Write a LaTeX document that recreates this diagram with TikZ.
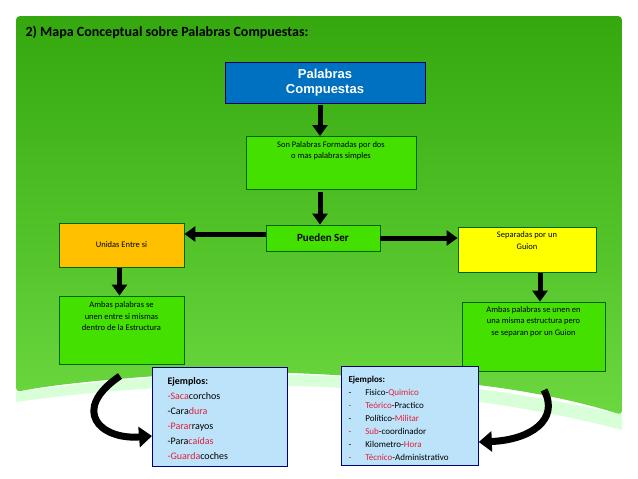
\documentclass[tikz,border=0pt]{standalone}
\usepackage{fontspec}
\setmainfont{Carlito}
\newfontfamily\heavy{Liberation Sans}
\usetikzlibrary{arrows.meta}
\definecolor{bgtop}{HTML}{34A80E}
\definecolor{bgbot}{HTML}{6CD840}
\definecolor{boxblue}{HTML}{0070C0}
\definecolor{boxgreen}{HTML}{44E000}
\definecolor{boxorange}{HTML}{FFC000}
\definecolor{boxyellow}{HTML}{FFFF00}
\definecolor{exblue}{HTML}{BDE3FA}
\definecolor{rd}{HTML}{E0203A}
\tikzset{
  box/.style={draw=green!40!black, line width=0.8pt, inner sep=2pt, align=center, font=\fontsize{8.5}{11.5}\selectfont},
  exbox/.style={draw=blue!50!black, fill=exblue, line width=0.8pt, align=left, anchor=north west, inner sep=0pt},
  arr/.style={line width=5pt, -{Triangle[length=11pt,width=15pt]}},
  carr/.style={line width=7pt, -{Triangle[length=13pt,width=20pt]}},
}
\begin{document}
\begin{tikzpicture}[x=1pt,y=-1pt]
\useasboundingbox (0,0) rectangle (638,479);
\fill[white] (0,0) rectangle (638,479);
% background
\shade[top color=bgtop, bottom color=bgbot, rounded corners=4pt]
  (16,16) -- (622,16) -- (622,415) .. controls (560,395) and (470,380) .. (380,378)
  .. controls (300,372) and (220,370) .. (170,375) .. controls (100,380) and (50,385) .. (16,392) -- cycle;
\fill[green!25!white, opacity=0.6] (16,392) .. controls (100,380) and (200,372) .. (300,375)
  .. controls (420,378) and (540,395) .. (622,415) -- (622,430)
  .. controls (540,408) and (420,390) .. (300,386) .. controls (200,383) and (100,390) .. (16,402) -- cycle;
\node[anchor=west, font=\fontsize{14}{16}\selectfont\bfseries] (title) at (22,32) {2) Mapa Conceptual sobre Palabras Compuestas:};

\node[box, fill=boxblue, draw=blue!40!black, minimum width=200pt, minimum height=41pt,
  font=\heavy\fontsize{13}{14.5}\selectfont\bfseries, text=white] (pc) at (325,82.5) {Palabras\\Compuestas};
\node[box, fill=boxgreen, minimum width=170pt, minimum height=53pt, anchor=north] (son) at (331,136)
  {Son Palabras Formadas por dos\\o mas palabras simples\\[14pt]};
\node[box, fill=boxgreen, minimum width=114pt, minimum height=26pt, font=\fontsize{11}{12}\selectfont\bfseries] (ps) at (323,238) {Pueden Ser};
\node[box, fill=boxorange, minimum width=125pt, minimum height=44pt] (un) at (121.5,245) {Unidas Entre si};
\node[box, fill=boxyellow, minimum width=138pt, minimum height=45pt] (sep) at (527,249.5) {Separadas por un\\Guion\\[6pt]};
\node[box, fill=boxgreen, minimum width=125pt, minimum height=68pt] (aml) at (121.5,330) {Ambas palabras se\\unen entre si mismas\\dentro de la Estructura\\[16pt]};
\node[box, fill=boxgreen, minimum width=143pt, minimum height=69pt] (amr) at (533.5,336.5) {Ambas palabras se unen en\\una misma estructura pero\\se separan por un Guion\\[20pt]};

\node[exbox, minimum width=135pt, minimum height=99pt] (exl) at (152,367) {};
\node[anchor=north west, align=left, font=\fontsize{10}{15}\selectfont] (exlt) at (164,374)
  {\textbf{Ejemplos:}\\
   \textcolor{rd}{-Saca}corchos\\
   -Cara\textcolor{rd}{dura}\\
   \textcolor{rd}{-Parar}rayos\\
   -Para\textcolor{rd}{caídas}\\
   \textcolor{rd}{-Guarda}coches};
\node[exbox, minimum width=137pt, minimum height=99pt] (exr) at (341,366) {};
\node[anchor=north west, align=left, font=\fontsize{9}{13}\selectfont] (exrt) at (345,373)
  {\textbf{Ejemplos:}\\
   -\hspace{14pt}Fisico-\textcolor{rd}{Quimico}\\
   \textcolor{rd}{-\hspace{14pt}Teórico}-Practico\\
   -\hspace{14pt}Político-\textcolor{rd}{Militar}\\
   \textcolor{rd}{-\hspace{14pt}Sub}-coordinador\\
   -\hspace{14pt}Kilometro-\textcolor{rd}{Hora}\\
   \textcolor{rd}{-\hspace{14pt}Técnico}-Administrativo};

\draw[arr] (pc.south) ++(-5,2) coordinate (a1) -- (a1 |- son.north);
\draw[arr] (son.south) ++(-11,2) coordinate (a2) -- (a2 |- ps.north);
\draw[arr] (ps.west) ++(0,-4) coordinate (a3) -- (un.east |- a3);
\draw[arr] (ps.east) coordinate (a4) -- (sep.west |- a4);
\draw[arr] (un.south) ++(-2,1) coordinate (a5) -- (a5 |- aml.north);
\draw[arr] (sep.south) ++(13,1) coordinate (a6) -- (a6 |- amr.north);
\coordinate (c1) at (120,376);
\draw[carr] (c1) .. controls (70,410) and (100,440) .. (exl.west |- 0,436);
\coordinate (c2) at (544,390);
\draw[carr] (c2) .. controls (560,420) and (530,440) .. (exr.east |- 0,442);
\end{tikzpicture}
\end{document}
